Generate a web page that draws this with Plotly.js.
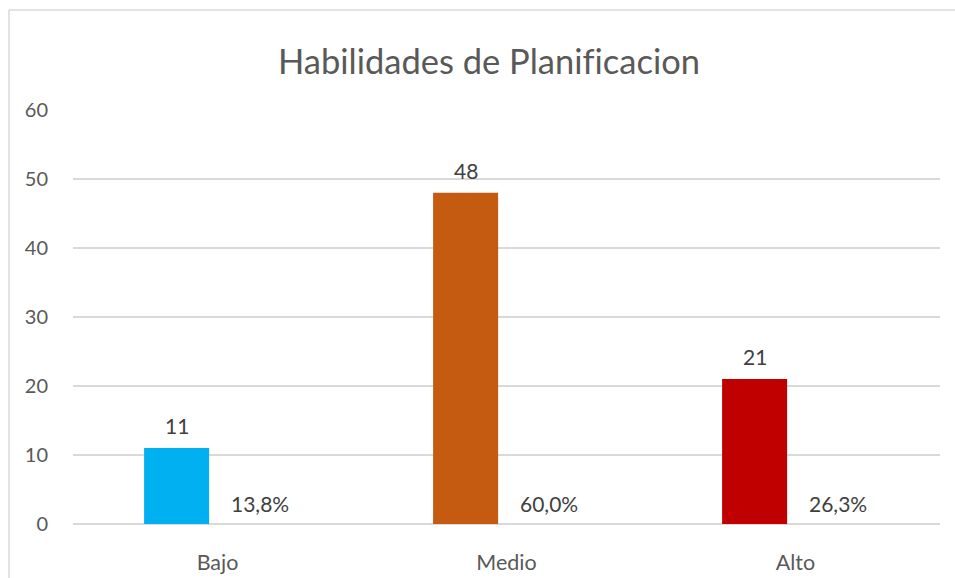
<!DOCTYPE html>
<html>
<head>
<meta charset="utf-8">
<script src="https://cdn.plot.ly/plotly-3.0.1.min.js"></script>
<style>html,body{margin:0;padding:0;background:#fff;}#chart{width:955px;height:578px;}
#chart text{font-variant-ligatures:none;font-feature-settings:"liga" 0;}</style>
</head>
<body>
<div id="chart"></div>
<script>
const categories = ["Bajo", "Medio", "Alto"];
const counts = [11, 48, 21];
const percentLabels = ["13,8%", "60,0%", "26,3%"];
const barColors = ["#00B0F0", "#C55A11", "#C00000"];
const yTicks = [0, 10, 20, 30, 40, 50, 60];

const FONT = "Lato, 'Open Sans', sans-serif";
const TXT = "#595959";

const trace = {
  type: "bar",
  x: categories,
  y: counts,
  marker: {color: barColors},
  width: 0.225,
  offset: -0.254,
  hoverinfo: "x+y",
  showlegend: false
};

const annotations = [];
categories.forEach((c, i) => {
  annotations.push({
    x: c, y: counts[i], xref: "x", yref: "y",
    text: String(counts[i]), showarrow: false,
    xshift: -41, yanchor: "bottom", yshift: 8,
    font: {family: FONT, size: 21, color: "#404040"}
  });
  annotations.push({
    x: c, y: 0, xref: "x", yref: "y",
    text: percentLabels[i], showarrow: false,
    xshift: 42, yanchor: "bottom", yshift: 6,
    font: {family: FONT, size: 21, color: "#404040"}
  });
});

const L = 73, R = 15, T = 110, B = 54, W = 955 - L - R, H = 578 - T - B;
const bx = (9 - L) / W, by = (524 - 10) / H;

const layout = {
  width: 955, height: 578,
  margin: {l: L, r: R, t: T, b: B},
  paper_bgcolor: "#ffffff", plot_bgcolor: "#ffffff",
  font: {family: FONT, color: TXT, size: 20},
  title: {
    text: "Habilidades de Planificacion",
    x: 489 / 955, xanchor: "center", xref: "container",
    y: 1 - 62 / 578, yanchor: "middle", yref: "container",
    font: {family: FONT, size: 34.5, color: TXT}
  },
  xaxis: {
    type: "category",
    showgrid: false, showline: false, zeroline: false,
    ticks: "outside", ticklen: 19, tickcolor: "rgba(0,0,0,0)",
    tickfont: {family: FONT, size: 21.5, color: TXT},
    fixedrange: true
  },
  yaxis: {
    range: [0, 60], tickvals: yTicks, ticktext: yTicks.map(String),
    showgrid: true, gridcolor: "#d9d9d9", gridwidth: 1.3,
    zeroline: true, zerolinecolor: "#d9d9d9", zerolinewidth: 1.3,
    showline: false,
    ticks: "outside", ticklen: 20, tickcolor: "rgba(0,0,0,0)",
    tickfont: {family: FONT, size: 20, color: TXT},
    fixedrange: true
  },
  shapes: [
    {type: "line", xref: "paper", yref: "paper", x0: bx, x1: bx, y0: -0.2, y1: by, line: {color: "#d9d9d9", width: 1.5}},
    {type: "line", xref: "paper", yref: "paper", x0: bx, x1: 1.1, y0: by, y1: by, line: {color: "#d9d9d9", width: 1.5}}
  ],
  annotations: annotations,
  showlegend: false
};

Plotly.newPlot("chart", [trace], layout, {displayModeBar: false, staticPlot: true});
</script>
</body>
</html>
